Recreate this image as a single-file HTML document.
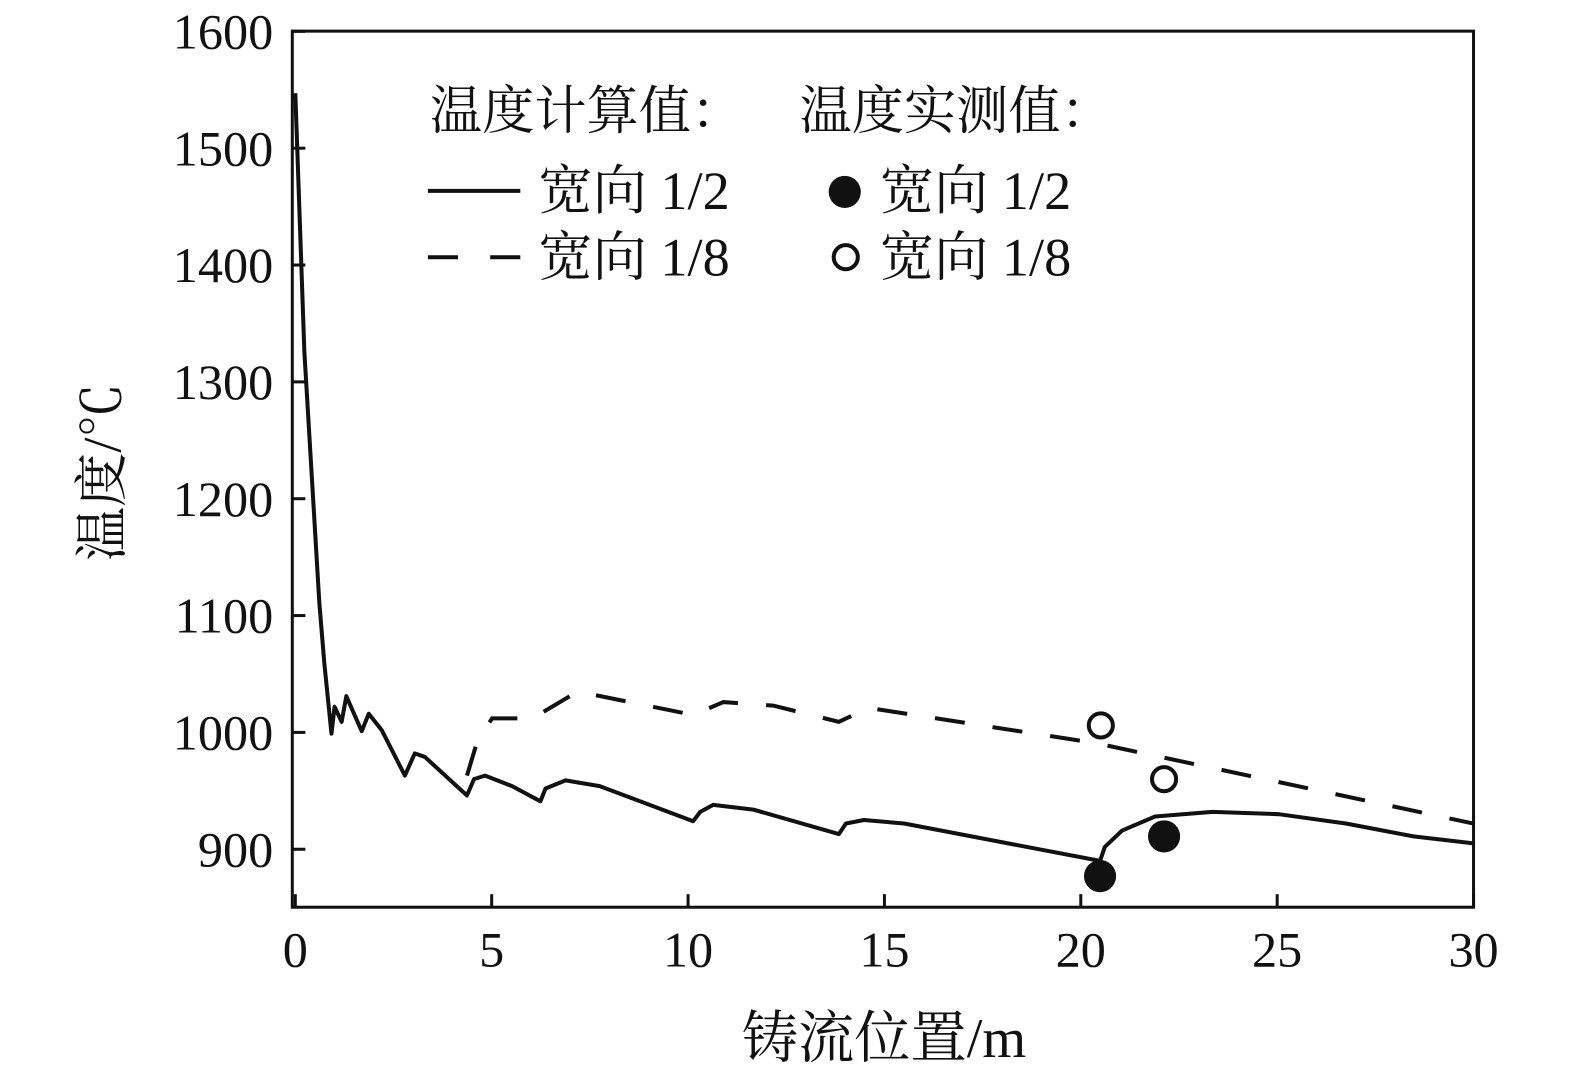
<!DOCTYPE html>
<html><head><meta charset="utf-8"><style>
body{margin:0;background:#fff}
svg text{font-family:"Liberation Serif","Noto Serif CJK SC",serif;fill:#111}
</style></head><body>
<svg id="c" width="1575" height="1074" viewBox="0 0 1568 1069" preserveAspectRatio="none" xmlns="http://www.w3.org/2000/svg">
<rect width="1568" height="1069" fill="#fff"/>
<g id="g"></g>
</svg>
<script>
const xTicks=[0,5,10,15,20,25,30];
const yTicks=[900,1000,1100,1200,1300,1400,1500,1600];
const calcHalfX=[0,0.05,0.23,0.61,0.74,0.92,1.0,1.18,1.30,1.69,1.87,2.20,2.79,3.04,3.30,4.37,4.55,4.83,5.52,6.24,6.37,6.88,7.75,10.13,10.31,10.64,11.66,13.84,14.02,14.48,15.50,20.49,20.61,21.05,21.89,23.35,25.04,26.75,28.47,30.0];
const calcHalfT=[1547,1498,1326,1111,1059,999,1022,1009,1031,1001,1016,1002,963,982,979,946,960,963,954,941,952,959,954,924,932,938,934,913,922,925,922,890,902,916,928,932,930,922,911,905];
const calcEighthX=[4.37,4.63,5.01,6.04,7.19,10.13,10.90,12.17,13.84,14.60,20.36,30.0];
const calcEighthT=[963,992,1012,1012,1035,1015,1026,1023,1009,1021,991,922];
const measHalfX=[20.49,22.12];
const measHalfT=[877,911];
const measEighthX=[20.51,22.12];
const measEighthT=[1006,960];

const NS="http://www.w3.org/2000/svg";
const g=document.getElementById('g');
const X=v=>294+v*39.1;
const Y=v=>729-(v-1000)*1.163;
function mk(t,a,p){const e=document.createElementNS(NS,t);for(const k in a)e.setAttribute(k,a[k]);(p||g).appendChild(e);return e;}

const frame=mk('rect',{x:291,y:31,width:1176,height:872,fill:'none',stroke:'#111','stroke-width':3});



xTicks.forEach(v=>{
  const t=mk('line',{x1:X(v),x2:X(v),y1:903,y2:890,stroke:'#111','stroke-width':3});
  
  
  const l=mk('text',{x:X(v),y:962,'text-anchor':'middle','font-size':50});
  l.textContent=v;
  
  
});
yTicks.forEach(v=>{
  const t=mk('line',{x1:291,x2:304,y1:Y(v),y2:Y(v),stroke:'#111','stroke-width':3});
  
  
  const l=mk('text',{x:272,y:Y(v)+17,'text-anchor':'end','font-size':50});
  l.textContent=v;
  
  
});

function pts(xs,ts){return xs.map((x,i)=>X(x).toFixed(1)+','+Y(ts[i]).toFixed(1)).join(' ');}
const s1=mk('polyline',{points:pts(calcHalfX,calcHalfT),fill:'none',stroke:'#111','stroke-width':4,'stroke-linejoin':'round'});


const s2=mk('polyline',{points:pts(calcEighthX,calcEighthT),fill:'none',stroke:'#111','stroke-width':4,'stroke-dasharray':'30 28'});


measEighthX.forEach((x,i)=>{
  const c=mk('circle',{cx:X(x),cy:Y(measEighthT[i]),r:12,fill:'#fff',stroke:'#111','stroke-width':4});
  
  
});
measHalfX.forEach((x,i)=>{
  const c=mk('circle',{cx:X(x),cy:Y(measHalfT[i]),r:16,fill:'#111'});
  
  
});
</script>
<svg width="1575" height="1074" viewBox="0 0 1568 1069" preserveAspectRatio="none" style="position:absolute;left:0;top:0" xmlns="http://www.w3.org/2000/svg">
<text x="880" y="1052" text-anchor="middle" font-size="56">铸流位置/m</text>
<text transform="translate(120,470) rotate(-90)" text-anchor="middle" font-size="54">温度/℃</text>
<g>
<text x="428" y="128" font-size="52">温度计算值：</text>
<text x="796" y="128" font-size="52">温度实测值：</text>
<line x1="426" y1="190" x2="518" y2="190" stroke="#111" stroke-width="4"/>
<text x="536" y="208" font-size="54">宽向 1/2</text>
<line x1="426" y1="256" x2="518" y2="256" stroke="#111" stroke-width="4" stroke-dasharray="30 32"/>
<text x="536" y="274" font-size="54">宽向 1/8</text>
<circle cx="841" cy="191" r="16" fill="#111"/>
<text x="876" y="208" font-size="54">宽向 1/2</text>
<circle cx="842" cy="256" r="12" fill="#fff" stroke="#111" stroke-width="4"/>
<text x="876" y="274" font-size="54">宽向 1/8</text>
</g>
</svg>
</body></html>
